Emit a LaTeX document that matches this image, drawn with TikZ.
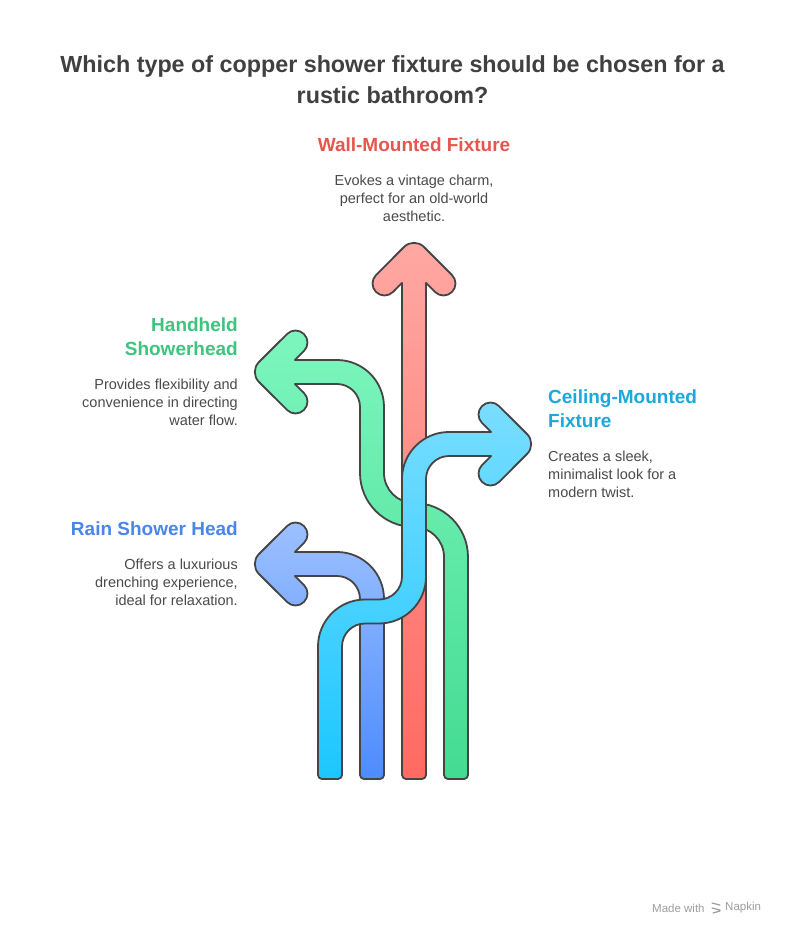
\documentclass[tikz,border=0pt]{standalone}
\usepackage{fontspec}
\setmainfont{Liberation Sans}
\usepackage{xcolor}
\usepackage{tikz}
\usetikzlibrary{positioning}
\definecolor{ink}{HTML}{454545}
\definecolor{titleInk}{HTML}{404040}
\definecolor{bodyInk}{HTML}{4A4A4A}
\definecolor{wallRed}{HTML}{E8554F}
\definecolor{handGreen}{HTML}{3DC47E}
\definecolor{rainBlue}{HTML}{4A86E8}
\definecolor{ceilCyan}{HTML}{1DA8DC}
\definecolor{redTop}{HTML}{FFA8A3}
\definecolor{redBot}{HTML}{FF6A62}
\definecolor{greenTop}{HTML}{7DF6BE}
\definecolor{greenBot}{HTML}{43DB91}
\definecolor{blueTop}{HTML}{9DC1FF}
\definecolor{blueBot}{HTML}{4D8BFF}
\definecolor{cyanTop}{HTML}{7ADDFF}
\definecolor{cyanBot}{HTML}{1BC7FF}

\begin{document}
\begin{tikzpicture}[x=1pt,y=1pt,
  pipe/.style={draw=ink,line width=1.8pt,line join=round},
  heading/.style={font=\bfseries\fontsize{19}{24}\selectfont,inner sep=0pt},
  blurb/.style={text=bodyInk,font=\fontsize{14.5}{18}\selectfont,inner sep=0pt}]
\useasboundingbox[fill=white] (0,0) rectangle (785,-936);

\node[anchor=north,align=center,inner sep=0pt,text=titleInk,font=\bfseries\fontsize{23.3}{31}\selectfont] (title) at (392.5,-50.3)
  {\strut Which type of copper shower fixture should be chosen for a\\rustic bathroom?};

% arrows, back to front
\shadedraw[pipe,top color=redTop,bottom color=redBot]
  (402,-775) -- (402,-282.94) -- (392.99,-291.99) arc[start angle=-45,end angle=-225,radius=12]
  -- (404.1,-246.9) arc[start angle=135,end angle=45,radius=14]
  -- (451.99,-275.01) arc[start angle=45,end angle=-135,radius=12]
  -- (426,-282.94) -- (426,-775)
  arc[start angle=0,end angle=-90,radius=4] -- (406,-779) arc[start angle=270,end angle=180,radius=4] -- cycle;
\shadedraw[pipe,top color=blueTop,bottom color=blueBot]
  (360,-775) -- (360,-599) arc[start angle=0,end angle=90,radius=23]
  -- (294.94,-576) -- (303.99,-585.01) arc[start angle=45,end angle=-135,radius=12]
  -- (258.9,-573.9) arc[start angle=225,end angle=135,radius=14]
  -- (287.01,-526.01) arc[start angle=135,end angle=-45,radius=12]
  -- (294.94,-552) -- (337,-552)
  arc[start angle=90,end angle=0,radius=47] -- (384,-775)
  arc[start angle=0,end angle=-90,radius=4] -- (364,-779) arc[start angle=270,end angle=180,radius=4] -- cycle;
\shadedraw[pipe,top color=greenTop,bottom color=greenBot]
  (444,-775) -- (444,-557) arc[start angle=0,end angle=90,radius=30]
  arc[start angle=270,end angle=180,radius=54] -- (360,-407) arc[start angle=0,end angle=90,radius=23]
  -- (294.94,-384) -- (303.99,-393.01) arc[start angle=45,end angle=-135,radius=12]
  -- (258.9,-381.9) arc[start angle=225,end angle=135,radius=14]
  -- (287.01,-334.01) arc[start angle=135,end angle=-45,radius=12]
  -- (294.94,-360) -- (337,-360)
  arc[start angle=90,end angle=0,radius=47] -- (384,-473) arc[start angle=180,end angle=270,radius=30]
  arc[start angle=90,end angle=0,radius=54] -- (468,-775)
  arc[start angle=0,end angle=-90,radius=4] -- (448,-779) arc[start angle=270,end angle=180,radius=4] -- cycle;
\shadedraw[pipe,top color=cyanTop,bottom color=cyanBot]
  (318,-775) -- (318,-646.5) arc[start angle=180,end angle=90,radius=47]
  -- (379,-599.5) arc[start angle=270,end angle=360,radius=23]
  -- (402,-479) arc[start angle=180,end angle=90,radius=47]
  -- (491.06,-432) -- (482.01,-422.99) arc[start angle=225,end angle=45,radius=12]
  -- (527.1,-434.1) arc[start angle=45,end angle=-45,radius=14]
  -- (499.01,-482.01) arc[start angle=315,end angle=135,radius=12]
  -- (491.06,-456) -- (449,-456)
  arc[start angle=90,end angle=180,radius=23] -- (426,-576.5) arc[start angle=0,end angle=-90,radius=47]
  -- (365,-623.5) arc[start angle=90,end angle=180,radius=23] -- (342,-775)
  arc[start angle=0,end angle=-90,radius=4] -- (322,-779) arc[start angle=270,end angle=180,radius=4] -- cycle;

% labels
\node[heading,anchor=north,text=wallRed] (wall) at (414,-134.2) {\strut Wall-Mounted Fixture};
\node[blurb,anchor=north,align=center] (wallText) at (414,-172.4)
  {\strut Evokes a vintage charm,\\perfect for an old-world\\aesthetic.};
\node[heading,anchor=north east,align=right,text=handGreen] (hand) at (238,-314)
  {\strut Handheld\\Showerhead};
\node[blurb,anchor=north east,align=right] (handText) at (238,-376.4)
  {\strut Provides flexibility and\\convenience in directing\\water flow.};
\node[heading,anchor=north east,text=rainBlue] (rain) at (238,-518.2) {\strut Rain Shower Head};
\node[blurb,anchor=north east,align=right] (rainText) at (238,-556.4)
  {\strut Offers a luxurious\\drenching experience,\\ideal for relaxation.};
\node[heading,anchor=north west,align=left,text=ceilCyan] (ceil) at (548,-386.5)
  {\strut Ceiling-Mounted\\Fixture};
\node[blurb,anchor=north west,align=left] (ceilText) at (548,-449.1)
  {\strut Creates a sleek,\\minimalist look for a\\modern twist.};

\node[anchor=west,inner sep=0pt,text=black!38,font=\fontsize{11.5}{13}\selectfont] (made) at (652,-908) {Made with};
\node[anchor=west,inner sep=0pt,text=black!38,font=\fontsize{11.5}{13}\selectfont] (napkin) at (725,-908) {Napkin};
\draw[black!38,line width=1.2pt,line cap=round] (712,-903) -- (720,-905) (712,-908) -- (720,-910) (713,-913) -- (720,-911);
\end{tikzpicture}
\end{document}
